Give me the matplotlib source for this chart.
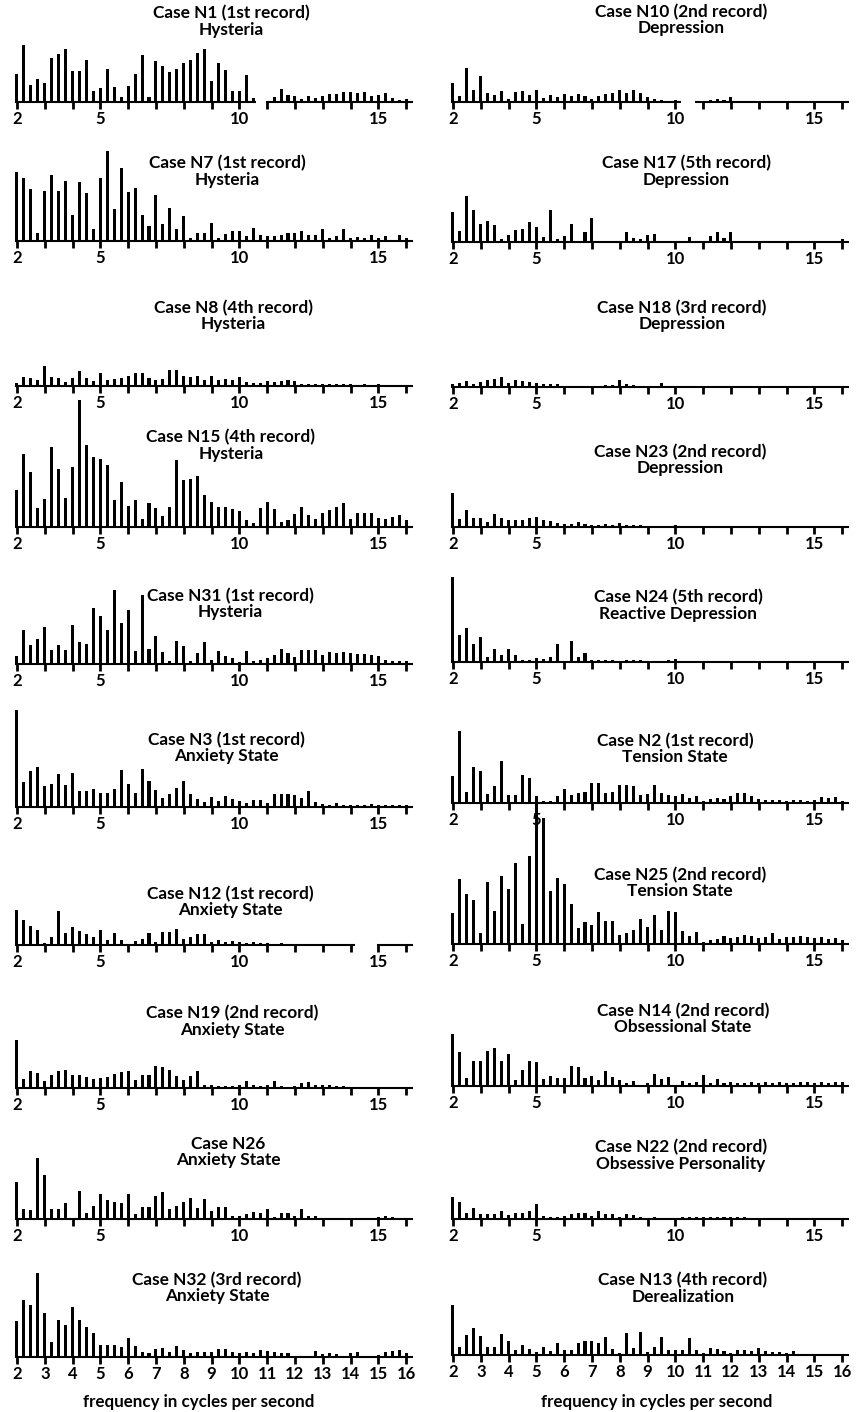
import numpy as np
import matplotlib
matplotlib.use("Agg")
import matplotlib.pyplot as plt

plt.rcParams['font.family'] = ['Lato', 'DejaVu Sans']
plt.rcParams['font.weight'] = 'bold'

# spectra: one bar every 0.25 c/s starting at 2 c/s, heights
f_start = 2.0
f_step = 0.25

# left column
n1 = [28, 57, 17, 23, 19, 44, 48, 53, 31, 31, 42, 11, 14, 33, 15, 5, 16, 28, 47, 5,
      41, 36, 30, 33, 39, 42, 49, 53, 21, 39, 32, 11, 11, 27, 4, 2, 0, 5, 13, 7,
      6, 3, 6, 4, 6, 8, 8, 10, 10, 9, 10, 6, 7, 9, 4, 2, 3]
n7 = [69, 63, 52, 8, 50, 66, 50, 60, 26, 59, 48, 12, 63, 90, 32, 73, 49, 53, 26, 15,
      46, 17, 33, 12, 25, 3, 8, 8, 18, 3, 7, 10, 10, 5, 13, 6, 5, 5, 6, 8,
      8, 10, 6, 6, 12, 3, 5, 12, 3, 4, 3, 6, 3, 5, 1, 6, 3]
n8 = [3, 9, 8, 6, 20, 9, 8, 4, 8, 15, 8, 5, 13, 6, 7, 8, 10, 13, 13, 8,
      6, 7, 16, 16, 10, 9, 10, 6, 10, 6, 7, 6, 9, 4, 3, 3, 5, 4, 5, 6,
      5, 2, 2, 2, 2, 2, 2, 2, 2, 1, 2, 1, 2, 0, 0, 0, 0]
n15 = [37, 73, 55, 19, 28, 80, 58, 29, 60, 127, 82, 70, 68, 62, 27, 45, 21, 27, 8, 24,
       19, 11, 20, 67, 47, 48, 51, 32, 25, 20, 20, 18, 16, 7, 4, 19, 25, 18, 5, 7,
       13, 20, 12, 8, 14, 17, 20, 24, 8, 14, 14, 14, 9, 8, 10, 12, 7]
n31 = [8, 34, 19, 25, 37, 14, 19, 14, 39, 22, 20, 56, 48, 34, 74, 41, 54, 13, 69, 15,
       28, 12, 3, 23, 18, 3, 11, 22, 4, 13, 8, 6, 2, 13, 3, 4, 6, 9, 15, 11,
       7, 14, 14, 14, 9, 12, 11, 12, 11, 10, 10, 9, 8, 4, 3, 3, 3]
n3 = [97, 25, 36, 40, 21, 23, 33, 22, 34, 16, 16, 18, 14, 14, 18, 37, 23, 14, 38, 26,
      17, 9, 13, 19, 26, 13, 8, 5, 10, 6, 11, 8, 6, 4, 7, 7, 4, 13, 13, 13,
      12, 9, 16, 5, 3, 2, 4, 2, 2, 2, 2, 3, 2, 2, 2, 2, 2]
n12 = [35, 25, 19, 15, 2, 8, 34, 12, 18, 14, 11, 8, 15, 5, 12, 5, 0, 4, 6, 12,
       3, 13, 13, 16, 6, 8, 11, 11, 3, 5, 3, 4, 3, 2, 3, 2, 2, 1, 2, 1,
       1, 1, 1, 1, 0, 1, 0, 1, 0, 0, 0, 0, 0, 0, 0, 0, 0]
n19 = [48, 9, 17, 15, 7, 13, 17, 18, 13, 13, 11, 9, 10, 11, 14, 16, 17, 8, 13, 13,
       22, 21, 18, 12, 8, 12, 17, 3, 3, 2, 2, 2, 3, 7, 3, 2, 3, 7, 2, 1,
       2, 5, 6, 3, 3, 3, 2, 2, 1, 0, 0, 0, 0, 0, 0, 0, 0]
n26 = [37, 10, 9, 61, 44, 10, 10, 16, 1, 28, 6, 13, 25, 19, 17, 16, 25, 5, 12, 12,
       23, 27, 10, 13, 17, 21, 11, 20, 8, 12, 12, 3, 3, 5, 7, 6, 10, 2, 6, 6,
       3, 10, 3, 3, 1, 0, 0, 0, 0, 0, 0, 0, 2, 3, 2, 0, 0]
n32 = [36, 57, 52, 84, 44, 15, 37, 32, 50, 37, 30, 24, 12, 12, 12, 10, 19, 11, 5, 4,
       8, 9, 5, 11, 7, 4, 5, 5, 5, 8, 8, 5, 4, 5, 4, 7, 6, 5, 4, 4,
       1, 1, 1, 6, 3, 4, 3, 0, 4, 5, 0, 0, 2, 5, 6, 7, 4]

# right column
n10 = [19, 6, 34, 12, 26, 9, 7, 11, 3, 10, 11, 7, 12, 4, 7, 5, 8, 6, 8, 6,
       3, 6, 8, 9, 12, 9, 12, 9, 5, 3, 2, 1, 2, 0, 0, 0, 1, 2, 3, 2,
       5, 1, 0, 0, 0, 0, 0, 0, 0, 0, 0, 0, 0, 0, 0, 0, 0]
n17 = [30, 11, 46, 32, 18, 21, 17, 3, 7, 12, 13, 20, 15, 5, 32, 3, 6, 18, 0, 10,
       24, 0, 0, 0, 0, 10, 4, 3, 7, 8, 0, 1, 0, 0, 5, 0, 0, 6, 10, 4,
       10, 0, 0, 0, 0, 0, 0, 0, 0, 0, 0, 0, 0, 0, 0, 0, 3]
n18 = [3, 4, 6, 3, 5, 7, 8, 10, 4, 7, 6, 5, 4, 3, 3, 3, 1, 0, 0, 0,
       0, 0, 2, 2, 7, 3, 2, 0, 0, 1, 4, 0, 0, 0, 0, 0, 0, 0, 0, 0,
       0, 0, 0, 0, 0, 0, 0, 0, 0, 0, 0, 0, 0, 0, 0, 0, 0]
n23 = [34, 8, 17, 9, 9, 5, 13, 9, 7, 7, 7, 9, 10, 7, 6, 4, 3, 3, 5, 3,
       2, 2, 3, 2, 4, 2, 2, 2, 0, 0, 0, 0, 2, 0, 0, 0, 0, 0, 0, 0,
       0, 0, 0, 0, 0, 0, 0, 0, 0, 0, 0, 0, 0, 0, 0, 0, 0]
n24 = [85, 27, 34, 18, 25, 5, 13, 7, 13, 7, 2, 2, 4, 3, 5, 18, 0, 21, 5, 9,
       2, 2, 2, 2, 0, 2, 2, 2, 0, 0, 0, 2, 3, 1, 0, 0, 0, 0, 0, 0,
       0, 0, 0, 0, 0, 0, 0, 0, 0, 0, 0, 0, 0, 0, 0, 0, 0]
n2 = [27, 72, 11, 36, 32, 9, 17, 42, 8, 8, 28, 25, 7, 2, 2, 7, 14, 8, 10, 11,
      20, 20, 10, 11, 18, 18, 17, 8, 9, 18, 10, 8, 7, 9, 5, 7, 2, 4, 5, 4,
      7, 10, 10, 7, 4, 3, 3, 3, 2, 3, 3, 2, 3, 6, 5, 6, 2]
n25 = [31, 65, 50, 44, 11, 62, 33, 68, 55, 81, 20, 88, 141, 126, 53, 66, 60, 40, 16, 22,
       19, 32, 23, 23, 9, 11, 14, 25, 17, 29, 14, 33, 32, 13, 8, 12, 2, 4, 5, 8,
       6, 7, 9, 8, 6, 7, 11, 5, 7, 7, 8, 7, 6, 7, 5, 6, 4]
n14 = [52, 34, 8, 25, 25, 35, 38, 25, 32, 6, 16, 25, 24, 7, 10, 8, 8, 20, 19, 8,
       10, 6, 15, 9, 6, 3, 5, 1, 3, 12, 7, 9, 1, 5, 3, 4, 11, 3, 7, 3,
       4, 3, 3, 4, 3, 4, 3, 4, 3, 3, 4, 4, 3, 4, 3, 4, 4]
n22 = [22, 17, 6, 11, 5, 5, 5, 8, 4, 6, 6, 8, 15, 3, 2, 2, 3, 5, 6, 6,
       3, 8, 5, 5, 2, 5, 4, 2, 0, 2, 0, 0, 0, 2, 2, 2, 2, 2, 2, 2,
       2, 2, 2, 0, 0, 0, 0, 0, 0, 0, 0, 0, 0, 0, 0, 0, 0]
n13 = [50, 8, 20, 27, 19, 8, 8, 21, 14, 5, 10, 6, 3, 8, 4, 12, 5, 5, 12, 14,
       14, 12, 18, 6, 2, 22, 7, 23, 3, 8, 18, 5, 5, 5, 17, 5, 2, 7, 6, 4,
       2, 5, 5, 4, 7, 4, 3, 3, 2, 4, 0, 0, 0, 0, 0, 0, 0]

left_series = [n1, n7, n8, n15, n31, n3, n12, n19, n26, n32]
left_cases = ["Case N1 (1st record)", "Case N7 (1st record)", "Case N8 (4th record)",
              "Case N15 (4th record)", "Case N31 (1st record)", "Case N3 (1st record)",
              "Case N12 (1st record)", "Case N19 (2nd record)", "Case N26",
              "Case N32 (3rd record)"]
left_diag = ["Hysteria"] * 5 + ["Anxiety State"] * 5

right_series = [n10, n17, n18, n23, n24, n2, n25, n14, n22, n13]
right_cases = ["Case N10 (2nd record)", "Case N17 (5th record)", "Case N18 (3rd record)",
               "Case N23 (2nd record)", "Case N24 (5th record)", "Case N2 (1st record)",
               "Case N25 (2nd record)", "Case N14 (2nd record)", "Case N22 (2nd record)",
               "Case N13 (4th record)"]
right_diag = ["Depression", "Depression", "Depression", "Depression",
              "Reactive Depression", "Tension State", "Tension State",
              "Obsessional State", "Obsessive Personality", "Derealization"]

# ---- layout (pixels) ----
W, H = 856, 1412
PX_HZ = 27.8
XMIN, XMAX = 1.85, 16.35
col_x0 = [12.8, 448.8]
baselines = [[102, 241, 386, 527, 664, 807, 945, 1088, 1219, 1357],
             [102, 242, 387, 527, 662, 803, 944, 1086, 1219, 1355]]
title_rise = [[89, 78, 78, 90, 68, 67, 51, 75, 75, 77],
              [90, 79, 79, 75, 65, 62, 69, 75, 72, 75]]
title_x = [[231, 227, 233, 231, 230, 226, 230, 232, 228, 217],
           [681, 686, 682, 680, 678, 675, 680, 683, 681, 683]]
axis_gaps = {(0, 0): (10.6, 10.95), (1, 0): (10.2, 10.7), (0, 6): (14.15, 14.95)}
xlabel_x = [199, 657]

fig = plt.figure(figsize=(W / 100, H / 100), dpi=100)
FS = 12.4
TICK_FS = 12
UP, DOWN = 150, 14


def draw_panel(col, row, heights, case, diag):
    base = baselines[col][row]
    ax = fig.add_axes([col_x0[col] / W, 1 - (base + DOWN) / H,
                       (XMAX - XMIN) * PX_HZ / W, (UP + DOWN) / H])
    ax.patch.set_alpha(0)
    ax.set_xlim(XMIN, XMAX)
    ax.set_ylim(-DOWN, UP)
    freqs = f_start + f_step * np.arange(len(heights))
    ax.bar(freqs, heights, width=0.11, color='black', linewidth=0, zorder=3)
    for s in ['top', 'left', 'right']:
        ax.spines[s].set_visible(False)
    ax.spines['bottom'].set_position(('data', 0))
    ax.spines['bottom'].set_bounds(1.97, 16.2)
    ax.spines['bottom'].set_linewidth(1.5)
    ax.set_yticks([])
    ticks = list(range(2, 17))
    # downward tick marks at every integer frequency
    ax.vlines(ticks, -7, 0, color='black', linewidth=2.0, zorder=3)
    if row == 9:
        labels = [str(t) for t in ticks]
    else:
        labels = [str(t) if t in (2, 5, 10, 15) else "" for t in ticks]
    ax.set_xticks(ticks)
    ax.set_xticklabels(labels, fontsize=TICK_FS, fontweight='bold')
    ax.tick_params(axis='x', length=6, width=0, direction='out', pad=0.5)
    if (col, row) in axis_gaps:
        a, b = axis_gaps[(col, row)]
        ax.hlines(0, a, b, color='white', linewidth=3, zorder=4)
    y1 = base - title_rise[col][row]
    fig.text(title_x[col][row] / W, 1 - y1 / H, case, ha='center', va='center',
             fontsize=FS, fontweight='bold')
    fig.text(title_x[col][row] / W, 1 - (y1 + 16.5) / H, diag, ha='center', va='center',
             fontsize=FS, fontweight='bold')


for r in range(10):
    draw_panel(0, r, left_series[r], left_cases[r], left_diag[r])
    draw_panel(1, r, right_series[r], right_cases[r], right_diag[r])

for c in range(2):
    fig.text(xlabel_x[c] / W, 1 - 1402 / H, "frequency in cycles per second",
             ha='center', va='center', fontsize=12.2, fontweight='bold')

fig.savefig("out.png", dpi=100, facecolor='white')
